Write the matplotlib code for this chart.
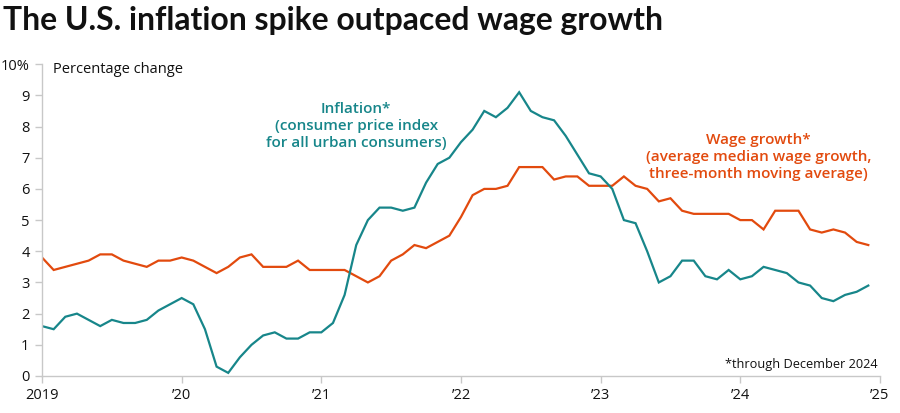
import matplotlib.pyplot as plt
import numpy as np

# monthly values, Jan 2019 .. Dec 2024
inflation = [1.6, 1.5, 1.9, 2.0, 1.8, 1.6, 1.8, 1.7, 1.7, 1.8, 2.1, 2.3,
             2.5, 2.3, 1.5, 0.3, 0.1, 0.6, 1.0, 1.3, 1.4, 1.2, 1.2, 1.4,
             1.4, 1.7, 2.6, 4.2, 5.0, 5.4, 5.4, 5.3, 5.4, 6.2, 6.8, 7.0,
             7.5, 7.9, 8.5, 8.3, 8.6, 9.1, 8.5, 8.3, 8.2, 7.7, 7.1, 6.5,
             6.4, 6.0, 5.0, 4.9, 4.0, 3.0, 3.2, 3.7, 3.7, 3.2, 3.1, 3.4,
             3.1, 3.2, 3.5, 3.4, 3.3, 3.0, 2.9, 2.5, 2.4, 2.6, 2.7, 2.9]
wages = [3.8, 3.4, 3.5, 3.6, 3.7, 3.9, 3.9, 3.7, 3.6, 3.5, 3.7, 3.7,
         3.8, 3.7, 3.5, 3.3, 3.5, 3.8, 3.9, 3.5, 3.5, 3.5, 3.7, 3.4,
         3.4, 3.4, 3.4, 3.2, 3.0, 3.2, 3.7, 3.9, 4.2, 4.1, 4.3, 4.5,
         5.1, 5.8, 6.0, 6.0, 6.1, 6.7, 6.7, 6.7, 6.3, 6.4, 6.4, 6.1,
         6.1, 6.1, 6.4, 6.1, 6.0, 5.6, 5.7, 5.3, 5.2, 5.2, 5.2, 5.2,
         5.0, 5.0, 4.7, 5.3, 5.3, 5.3, 4.7, 4.6, 4.7, 4.6, 4.3, 4.2]
years = [2019, 2020, 2021, 2022, 2023, 2024, 2025]
year_labels = ['2019', '\u201920', '\u201921', '\u201922', '\u201923', '\u201924', '\u201925']
y_ticks = list(range(11))
y_labels = [str(v) for v in range(10)] + ['10%']

teal = '#17868a'
orange = '#e24a0e'
gray = '#c8c8c8'
font = ['Open Sans', 'DejaVu Sans']

plt.rcParams['font.family'] = font
x = 2019 + np.arange(len(inflation)) / 12

fig = plt.figure(figsize=(9, 4.13), dpi=100)
ax = fig.add_axes([0.0467, 0.0896, 0.931, 0.755])

ax.plot(x, wages, color=orange, lw=1.6, solid_joinstyle='miter')
ax.plot(x, inflation, color=teal, lw=1.6, solid_joinstyle='miter')

ax.set_xlim(2019, 2025)
ax.set_ylim(0, 10)
ax.set_xticks(years)
ax.set_xticklabels(year_labels)
ax.set_yticks(y_ticks)
ax.set_yticklabels(y_labels)
for s in ['top', 'right']:
    ax.spines[s].set_visible(False)
for s in ['left', 'bottom']:
    ax.spines[s].set_color(gray)
    ax.spines[s].set_linewidth(1)
ax.tick_params(axis='both', colors=gray, length=5, width=1, labelcolor='#111111',
               labelsize=10.5)
ax.tick_params(axis='y', pad=4)
ax.tick_params(axis='x', pad=4)

ax.text(0.013, 0.982, 'Percentage change', transform=ax.transAxes,
        fontsize=10.5, va='center', ha='left', color='#111111')

ax.text(2021.25, 8.02, 'Inflation*\n(consumer price index\nfor all urban consumers)',
        color=teal, fontsize=11, fontweight='semibold', ha='center', va='center',
        linespacing=1.25)
ax.text(2024.13, 7.03, 'Wage growth*\n(average median wage growth,\nthree-month moving average)',
        color=orange, fontsize=11, fontweight='semibold', ha='center', va='center',
        linespacing=1.25)
ax.text(2024.98, 0.38, '*through December 2024', fontsize=9.2, ha='right',
        va='center', color='#111111')

title = fig.text(0.003, 0.95, 'The U.S. inflation spike outpaced wage growth',
                 fontsize=22, fontweight='bold', ha='left', va='center',
                 color='#111111', family=['Lato', 'DejaVu Sans'])
# fit title width to the reference (~658 px)
fig.canvas.draw()
w = title.get_window_extent().width
title.set_fontsize(22 * 658 / w)

fig.savefig('out.png', dpi=100)
